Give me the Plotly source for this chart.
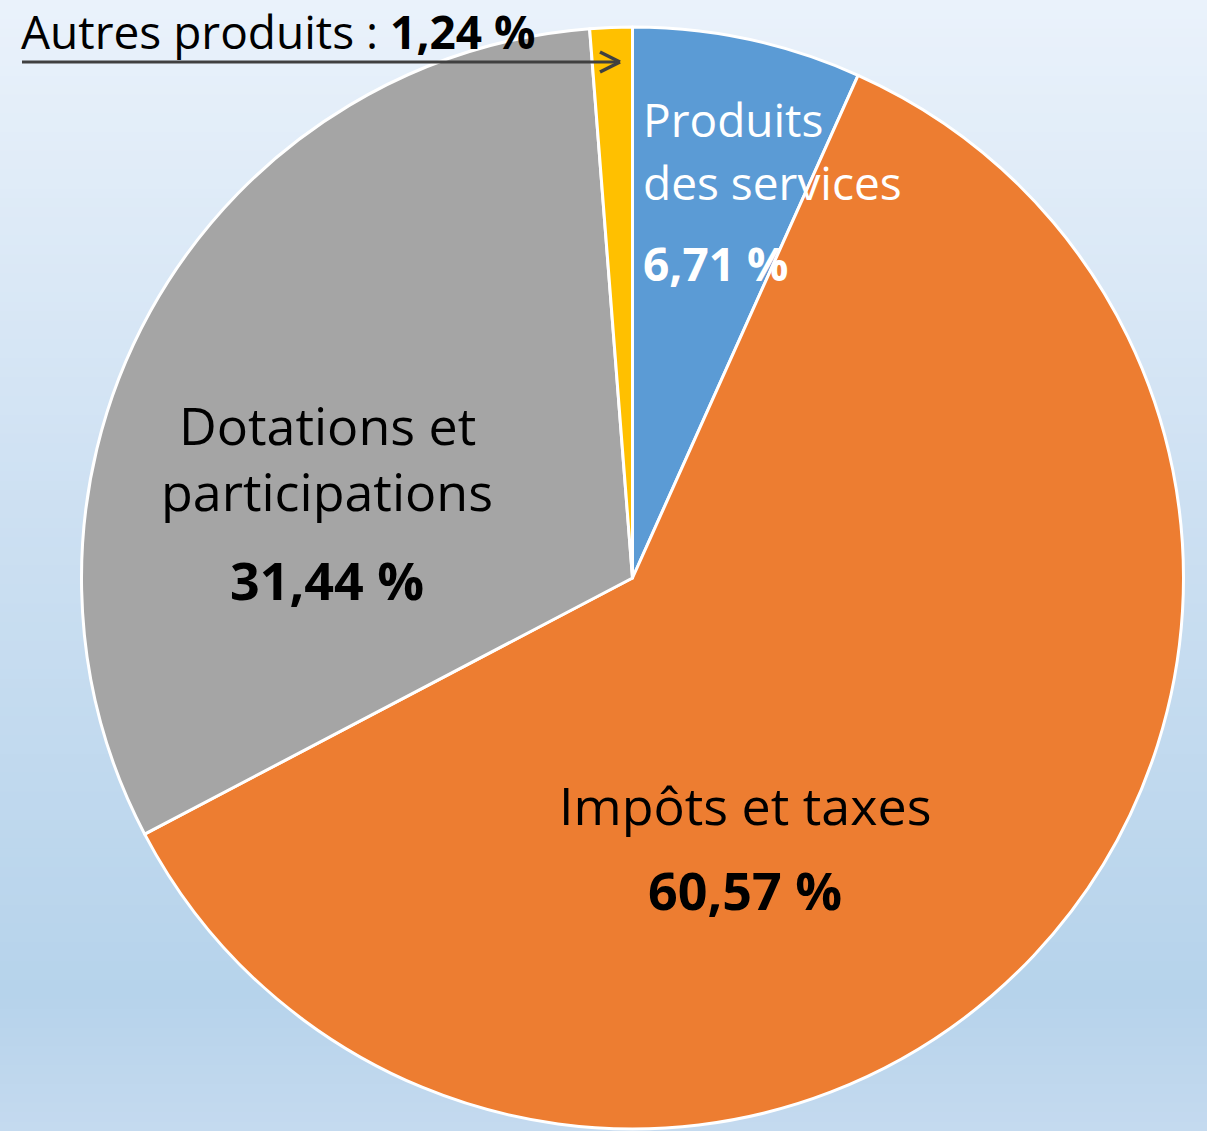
import plotly.graph_objects as go

W, H = 1207, 1131

labels = ["Produits des services", "Impôts et taxes", "Dotations et participations", "Autres produits"]
values = [6.71, 60.57, 31.44, 1.24]
colors = ["#5B9BD5", "#ED7D31", "#A5A5A5", "#FFC000"]

FONT = "Open Sans"

def px(x):
    return x / W

def py(y):
    return 1 - y / H

CX, CY, R = 632.5, 578, 551
fig = go.Figure(go.Pie(
    labels=labels, values=values, sort=False, direction="clockwise", rotation=0,
    marker=dict(colors=colors, line=dict(color="white", width=3)),
    textinfo="none", hoverinfo="skip", showlegend=False,
    domain=dict(x=[px(CX - R), px(CX + R)], y=[py(CY + R), py(CY - R)]),
))

# gradient background
stops = [(0.0, (234, 242, 251)), (0.45, (205, 224, 242)), (0.88, (182, 211, 235)), (1.0, (196, 218, 239))]

def col(t):
    for (t0, c0), (t1, c1) in zip(stops[:-1], stops[1:]):
        if t0 <= t <= t1:
            f = (t - t0) / (t1 - t0)
            return "rgb(%d,%d,%d)" % tuple(round(a + (b - a) * f) for a, b in zip(c0, c1))
    return "rgb(%d,%d,%d)" % stops[-1][1]

shapes = []
N = 120
for i in range(N):
    y0 = i / N
    y1 = (i + 1) / N
    shapes.append(dict(type="rect", xref="paper", yref="paper", x0=0, x1=1, y0=1 - y1 - 0.001, y1=1 - y0,
                       fillcolor=col((i + 0.5) / N), line=dict(width=0), layer="below"))

# arrow for "Autres produits"
ac = "#404040"
shapes.append(dict(type="line", xref="paper", yref="paper", x0=px(22), x1=px(619), y0=py(62), y1=py(62),
                   line=dict(color=ac, width=3), layer="above"))
shapes.append(dict(type="line", xref="paper", yref="paper", x0=px(600), x1=px(620), y0=py(52), y1=py(62),
                   line=dict(color=ac, width=3.5), layer="above"))
shapes.append(dict(type="line", xref="paper", yref="paper", x0=px(600), x1=px(620), y0=py(72), y1=py(62),
                   line=dict(color=ac, width=3.5), layer="above"))

def ann(text, x, y, color, size, xanchor="center", bold=False):
    t = "<b>%s</b>" % text if bold else text
    return dict(text=t, x=px(x), y=py(y), xref="paper", yref="paper", showarrow=False,
                xanchor=xanchor, yanchor="middle", font=dict(family=FONT, size=size, color=color))

S = 52
SB = 46
annotations = [
    ann("Produits", 641, 119, "white", SB, "left"),
    ann("des services", 641, 182, "white", SB, "left"),
    ann("6,71 %", 641, 263, "white", SB, "left", True),
    ann("Dotations et", 327, 424, "black", S),
    ann("participations", 327, 491, "black", S),
    ann("31,44 %", 327, 579, "black", S, bold=True),
    ann("Impôts et taxes", 745, 804, "black", S),
    ann("60,57 %", 745, 889, "black", S, bold=True),
    dict(text="Autres produits : <b>1,24 %</b>", x=px(20), y=py(31), xref="paper", yref="paper",
         showarrow=False, xanchor="left", yanchor="middle", borderpad=0,
         font=dict(family=FONT, size=46, color="black")),
]

fig.update_layout(
    width=W, height=H, margin=dict(l=0, r=0, t=0, b=0),
    paper_bgcolor="#dce9f6", plot_bgcolor="rgba(0,0,0,0)",
    shapes=shapes, annotations=annotations,
)

fig.write_html("out.html", config={"displayModeBar": False},
               post_script="document.body.style.margin='0';document.body.style.overflow='hidden';")
